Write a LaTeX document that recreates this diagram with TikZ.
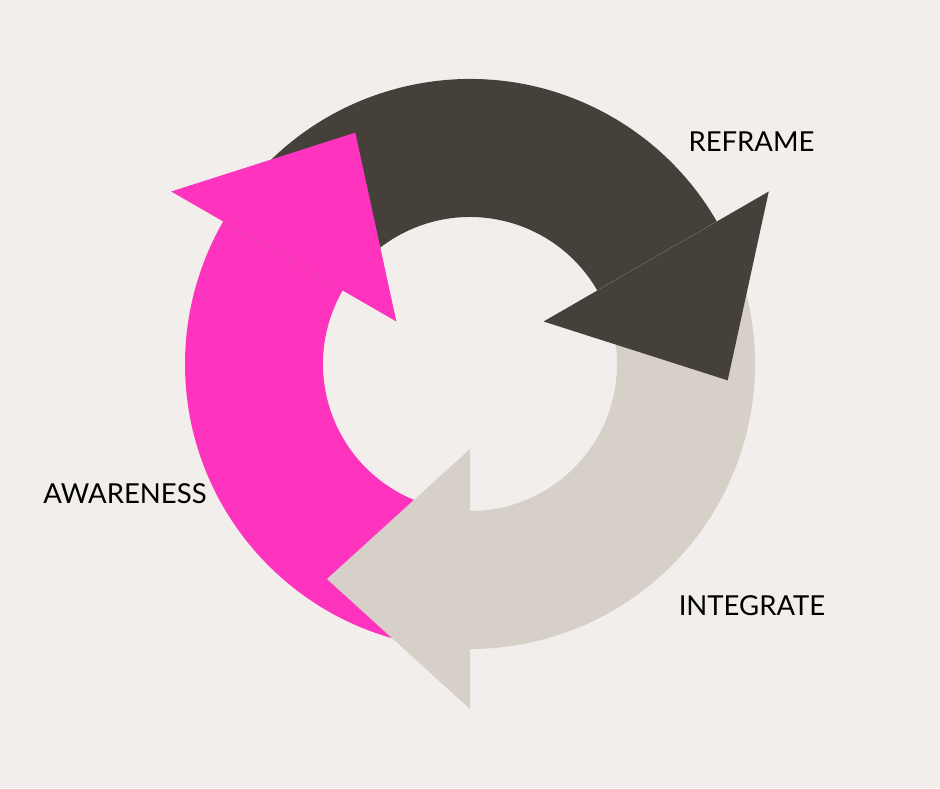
\documentclass[tikz,border=0pt]{standalone}
\usepackage{fontspec}
\setmainfont{Lato}
\usetikzlibrary{calc}
\definecolor{bgcream}{HTML}{F1EEEB}
\definecolor{hotpink}{HTML}{FE34BE}
\definecolor{charcoal}{HTML}{45403A}
\definecolor{stone}{HTML}{D7D0C9}

\begin{document}
\begin{tikzpicture}[x=1pt, y=1pt,
    steplabel/.style={font=\fontsize{27.5}{33}\selectfont, text=black, inner sep=0pt}]
  \fill[bgcream] (0,0) rectangle (940,788);
  \coordinate (hub) at (470,424);
  % ring parts first
  \foreach \col/\sa/\ea in {hotpink/270/150, charcoal/150/30, stone/30/-90}
    \fill[\col] ($(hub)+(\sa:285)$) arc[start angle=\sa, end angle=\ea, radius=285]
      -- ($(hub)+(\ea:147)$) arc[start angle=\ea, end angle=\sa, radius=147] -- cycle;
  % heads on top
  \foreach \col/\ea in {hotpink/150, charcoal/30, stone/-90}
    \fill[\col] ($(hub)+(\ea:85)$) -- ($(hub)+(\ea:345)$)
      -- ($(hub)+(\ea:215)+(\ea-90:143)$) -- cycle;
  \node[steplabel] (reframe) at (751.5,646.5) {REFRAME};
  \node[steplabel] (integrate) at (752,182.5) {INTEGRATE};
  \node[steplabel] (awareness) at (125,294) {AWARENESS};
\end{tikzpicture}
\end{document}
